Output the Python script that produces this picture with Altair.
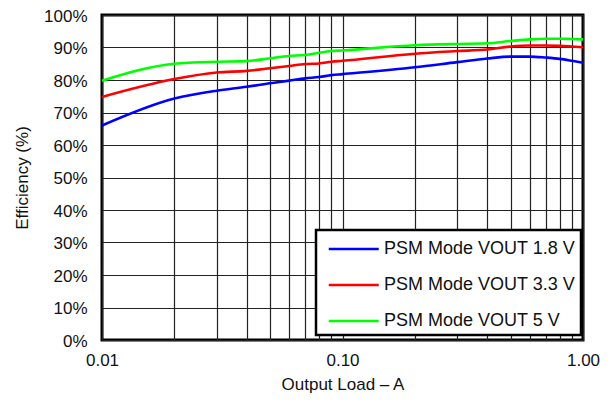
import altair as alt
import pandas as pd

loads = [0.01, 0.02, 0.03, 0.04, 0.05, 0.06, 0.07, 0.08, 0.09, 0.10,
         0.20, 0.30, 0.40, 0.50, 0.60, 0.70, 0.80, 0.90, 1.00]
eff_18 = [66.0, 74.3, 76.7, 77.9, 79.0, 79.8, 80.5, 80.9, 81.5, 81.8,
          83.9, 85.5, 86.6, 87.2, 87.2, 86.9, 86.5, 85.9, 85.3]
eff_33 = [74.8, 80.3, 82.3, 82.8, 83.6, 84.3, 84.9, 85.1, 85.6, 85.9,
          88.1, 88.9, 89.4, 90.3, 90.6, 90.6, 90.5, 90.3, 90.1]
eff_5 = [79.8, 85.0, 85.6, 85.8, 86.7, 87.4, 87.7, 88.4, 88.9, 89.1,
         90.7, 91.1, 91.3, 92.0, 92.5, 92.7, 92.7, 92.6, 92.5]
series = ["PSM Mode VOUT 1.8 V", "PSM Mode VOUT 3.3 V", "PSM Mode VOUT 5 V"]
colors = ["#0000ff", "#ff0000", "#00ff00"]
x_ticks = [0.01, 0.02, 0.03, 0.04, 0.05, 0.06, 0.07, 0.08, 0.09,
           0.1, 0.2, 0.3, 0.4, 0.5, 0.6, 0.7, 0.8, 0.9, 1.0]
y_ticks = [0, 10, 20, 30, 40, 50, 60, 70, 80, 90, 100]

rows = []
for name, vals in zip(series, [eff_18, eff_33, eff_5]):
    for x, y in zip(loads, vals):
        rows.append({"load": x, "eff": y, "series": name})
df = pd.DataFrame(rows)

FONT = "Liberation Sans"

chart = alt.Chart(df).mark_line(strokeWidth=2.6, interpolate="monotone").encode(
    x=alt.X("load:Q",
            scale=alt.Scale(type="log", domain=[0.01, 1.0], nice=False),
            axis=alt.Axis(title="Output Load – A", values=x_ticks,
                          labelExpr="abs(log(datum.value)/LN10 - round(log(datum.value)/LN10)) < 0.000001 ? format(datum.value, '.2f') : ''",
                          grid=True, gridColor="#222222", gridWidth=1.2, gridOpacity=1,
                          ticks=False, domain=False, labelPadding=12,
                          labelFontSize=17, titleFontSize=17, titlePadding=8,
                          labelFont=FONT, titleFont=FONT, labelColor="#111111",
                          titleColor="#111111", titleFontWeight="normal",
                          labelOverlap=False, labelFlush=False)),
    y=alt.Y("eff:Q",
            scale=alt.Scale(domain=[0, 100], nice=False),
            axis=alt.Axis(title="Efficiency (%)", values=y_ticks,
                          labelExpr="datum.value + '%'",
                          grid=True, gridColor="#222222", gridWidth=1.2, gridOpacity=1,
                          ticks=False, domain=False, labelPadding=15, labelOffset=1,
                          labelFontSize=17, titleFontSize=17, titlePadding=12,
                          labelFont=FONT, titleFont=FONT, labelColor="#111111",
                          titleColor="#111111", titleFontWeight="normal",
                          labelFlush=False)),
    color=alt.Color("series:N",
                    scale=alt.Scale(domain=series, range=colors),
                    legend=alt.Legend(title=None, orient="none", legendX=214, legendY=215,
                                      strokeColor="black", fillColor="white", padding=5,
                                      symbolType="M-0.5,0H3.5", symbolSize=625,
                                      symbolStrokeWidth=2.5, labelFontSize=18,
                                      labelFont=FONT, labelColor="#111111",
                                      labelOffset=35, rowPadding=13, labelLimit=400)),
).properties(
    width=481, height=325,
    autosize=alt.AutoSizeParams(type="none"),
    padding={"left": 94, "top": 7, "right": 21, "bottom": 55},
).configure_view(
    stroke="black", strokeWidth=3
).configure_legend(
    strokeWidth=2.5
)

chart.save("out.html", embed_options={"renderer": "svg", "actions": False})
